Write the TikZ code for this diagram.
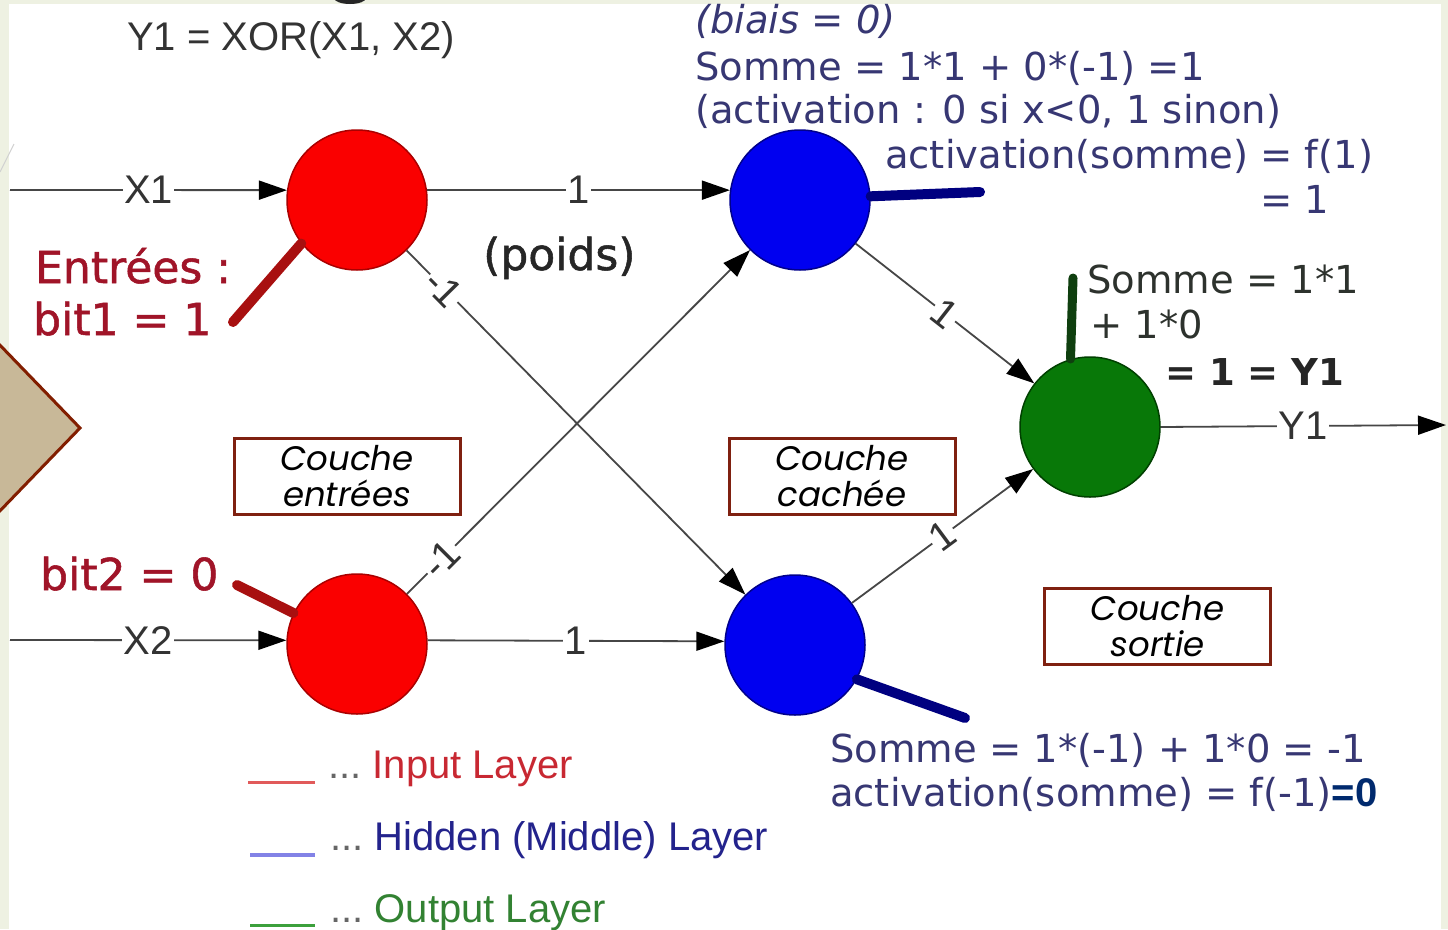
\documentclass[tikz,border=0pt]{standalone}
\usepackage{fontspec}
\setmainfont{Liberation Sans}
\newfontfamily\verd{DejaVu Sans}
\newfontfamily\verdheavy[FakeBold=1.2]{DejaVu Sans}
\newfontfamily\gothic{Poppins}
\usetikzlibrary{arrows.meta}

\definecolor{slidebg}{RGB}{238,241,226}
\definecolor{tan}{RGB}{200,184,152}
\definecolor{tanedge}{RGB}{130,30,0}
\definecolor{nred}{RGB}{250,0,0}
\definecolor{nredd}{RGB}{170,0,0}
\definecolor{nblue}{RGB}{0,0,240}
\definecolor{nblued}{RGB}{0,0,140}
\definecolor{ngreen}{RGB}{8,120,8}
\definecolor{ngreend}{RGB}{0,64,0}
\definecolor{pinred}{RGB}{168,16,16}
\definecolor{pinblue}{RGB}{0,0,128}
\definecolor{pingreen}{RGB}{15,63,15}
\definecolor{linkgray}{RGB}{70,70,70}
\definecolor{hidtext}{RGB}{55,55,115}
\definecolor{outtext}{RGB}{45,50,45}
\definecolor{intext}{RGB}{160,20,40}
\definecolor{boxred}{RGB}{127,32,16}
\definecolor{zeroblue}{RGB}{0,42,110}
\definecolor{legred}{RGB}{200,40,50}
\definecolor{legredline}{RGB}{225,90,90}
\definecolor{legblue}{RGB}{35,35,140}
\definecolor{legblueline}{RGB}{130,130,230}
\definecolor{leggreen}{RGB}{50,130,50}
\definecolor{leggreenline}{RGB}{60,160,60}

\tikzset{
  neuron/.style={circle, minimum size=140pt, inner sep=0pt, line width=1.5pt},
  link/.style={draw=linkgray, line width=1.8pt,
    -{Triangle[length=28pt,width=19pt,color=black]}},
  wlabel/.style={fill=white, inner sep=1.5pt, text=black!80,
    font=\fontsize{40}{40}\selectfont},
  pinline/.style={line width=10pt, line cap=round},
  txt/.style={anchor=base west, inner sep=0pt},
  vtxt/.style={txt, font=\verd\fontsize{38.5}{40}\selectfont},
  redtxt/.style={txt, font=\verdheavy\fontsize{44}{44}\selectfont, text=intext},
  layerbox/.style={draw=boxred, line width=3pt, minimum width=226pt,
    minimum height=76pt, align=center, inner sep=0pt,
    font=\gothic\itshape\fontsize{34}{36}\selectfont},
  legtxt/.style={txt, font=\fontsize{40}{40}\selectfont, text=black!60}
}

\begin{document}
\begin{tikzpicture}[x=1pt,y=-1pt]
\useasboundingbox (0,0) rectangle (1448,929);

% slide background and white drawing area
\fill[slidebg] (0,0) rectangle (1448,929);
\fill[white] (9,4) rectangle (1441,929);
\fill[black!85] (350,-2) ellipse [x radius=16, y radius=6];
\draw[black!18, line width=1pt] (0,172) -- (14,144);
\filldraw[fill=tan, draw=tanedge, line width=3pt] (-5,340) -- (80,428) -- (-5,516);

% title
\node[txt, font=\fontsize{40}{40}\selectfont, text=black!80] (title) at (127,50) {Y1 = XOR(X1, X2)};

% neurons
\node[neuron, fill=nred, draw=nredd] (r1) at (357,200) {};
\node[neuron, fill=nred, draw=nredd] (r2) at (357,644) {};
\node[neuron, fill=nblue, draw=nblued] (b1) at (800,200) {};
\node[neuron, fill=nblue, draw=nblued] (b2) at (795,645) {};
\node[neuron, fill=ngreen, draw=ngreend] (g) at (1090,427) {};

% inputs and output
\coordinate (x1in) at (10,190);
\coordinate (x2in) at (10,640);
\coordinate (yout) at (1446,425);
\draw[link] (x1in) -- node[wlabel] (lx1) {X1} (r1.172);
\draw[link] (x2in) -- node[wlabel] (lx2) {X2} (r2.177);
\draw[link] (g.east) -- node[wlabel] (ly1) {Y1} (yout);

% weighted connections
\draw[link] (r1.8) -- node[wlabel] (w11) {1} (b1.172);
\draw[link] (r2.3) -- node[wlabel] (w22) {1} (b2.177);
\draw[link] (r1) -- node[wlabel, pos=0.11, sloped] (w12) {-1} (b2);
\draw[link] (r2) -- node[wlabel, pos=0.1, sloped] (w21) {-1} (b1);
\draw[link] (b1) -- node[wlabel, pos=0.5, sloped] (wg1) {1} (g);
\draw[link] (b2) -- node[wlabel, pos=0.5, sloped] (wg2) {1} (g);

% annotation pins
\coordinate (pr1) at (233,322);
\coordinate (pr2) at (237,585);
\coordinate (pb1) at (980,192);
\coordinate (pb2) at (965,718);
\coordinate (pg) at (1073,278);
\draw[pinline, pinred] (r1.218) -- (pr1);
\draw[pinline, pinred] (r2.154) -- (pr2);
\draw[pinline, pinblue] (b1.3) -- (pb1);
\draw[pinline, pinblue] (b2.-29) -- (pb2);
\draw[pinline, pingreen, line width=9pt] (g.106) -- (pg);

% input annotations
\node[redtxt] (ent) at (35,283) {Entrées :};
\node[redtxt] (bit1) at (33,335) {bit1 = 1};
\node[redtxt] (bit2) at (40,590) {bit2 = 0};
\node[redtxt, text=black!85] (poids) at (483,270) {(poids)};

% hidden neuron annotations
\node[vtxt, text=hidtext, font=\verd\itshape\fontsize{38.5}{40}\selectfont] (biais) at (695,33) {(biais = 0)};
\node[vtxt, text=hidtext] (s1) at (695,80) {Somme = 1*1 + 0*(-1) =1};
\node[vtxt, text=hidtext] (act) at (695,123) {(activation : 0 si x<0, 1 sinon)};
\node[vtxt, text=hidtext] (a1) at (885,168) {activation(somme) = f(1)};
\node[vtxt, text=hidtext] (a1b) at (1260,213) {= 1};
\node[vtxt, text=hidtext] (s2) at (830,762) {Somme = 1*(-1) + 1*0 = -1};
\node[vtxt, text=hidtext] (a2) at (830,806) {activation(somme) = f(-1)\textcolor{zeroblue}{\normalfont\bfseries\fontsize{40}{40}\selectfont=0}};

% output neuron annotations
\node[vtxt, text=outtext] (s3) at (1087,293) {Somme = 1*1};
\node[vtxt, text=outtext] (s3b) at (1090,338) {+ 1*0};
\node[vtxt, text=black!85, font=\verd\bfseries\fontsize{37}{40}\selectfont] (s3c) at (1165,385) {= 1 = Y1};

% layer boxes
\node[layerbox] (bin) at (347,476) {Couche\\entrées};
\node[layerbox] (bhid) at (842,476) {Couche\\cachée};
\node[layerbox] (bout) at (1157.5,626.5) {Couche\\sortie};

% legend
\draw[legredline, line width=3pt] (248,782) -- (315,782);
\draw[legblueline, line width=4pt] (250,855) -- (315,855);
\draw[leggreenline, line width=3pt] (250,925) -- (315,925);
\node[legtxt] (lgi) at (328,778) {...\ \textcolor{legred}{Input Layer}};
\node[legtxt] (lgh) at (330,850) {...\ \textcolor{legblue}{Hidden (Middle) Layer}};
\node[legtxt] (lgo) at (330,922) {...\ \textcolor{leggreen}{Output Layer}};
\end{tikzpicture}
\end{document}
